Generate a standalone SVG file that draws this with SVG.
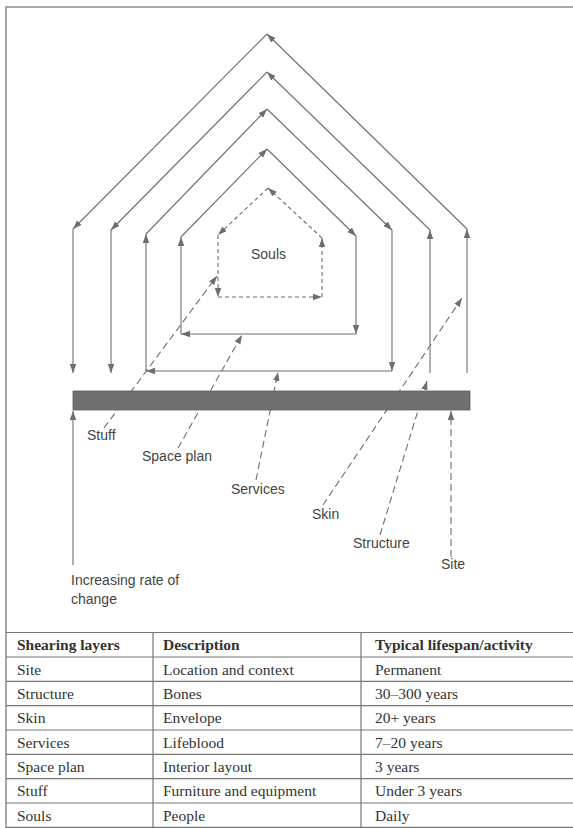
<svg xmlns="http://www.w3.org/2000/svg" width="573" height="828" viewBox="0 0 573 828">
<style>
.ln{stroke:#6e6e6e;stroke-width:1.1;fill:none;marker-end:url(#ah)}
.ds{stroke:#6e6e6e;stroke-width:1.1;fill:none;stroke-dasharray:7 4;marker-end:url(#ah)}
.ds2{stroke:#6e6e6e;stroke-width:1.1;fill:none;stroke-dasharray:4 3;marker-end:url(#ah)}
.lbl{font-family:"Liberation Sans",Arial,sans-serif;font-size:14px;fill:#444}
.th{font-family:"Liberation Serif","Times New Roman",serif;font-size:15.5px;font-weight:bold;fill:#333}
.td{font-family:"Liberation Serif","Times New Roman",serif;font-size:15.5px;fill:#333}
.grid{stroke:#777;stroke-width:1.2;fill:none}
</style>
<defs>
<marker id="ah" markerUnits="userSpaceOnUse" markerWidth="9" markerHeight="7" refX="9" refY="3.25" orient="auto">
<path d="M0,0 L9,3.25 L0,6.5 z" fill="#6e6e6e"/>
</marker>
</defs>
<rect width="573" height="828" fill="#fff"/>
<path d="M6,828 V7 H573" stroke="#8a8a8a" stroke-width="1.5" fill="none"/>

<g id="connectors">
<line class="ds" x1="104" y1="428" x2="217" y2="276"/>
<line class="ds" x1="178" y1="448" x2="242" y2="335"/>
<line class="ds" x1="256" y1="480" x2="278" y2="372"/>
<line class="ds" x1="323" y1="505" x2="462" y2="298"/>
<line class="ds" x1="380" y1="535" x2="427" y2="381"/>
<line class="ds" x1="451" y1="557" x2="451" y2="411"/>
<line class="ln" x1="73" y1="565" x2="73" y2="411"/>
</g>

<g id="site">
<line class="ln" x1="467" y1="373" x2="467" y2="229"/>
<line class="ln" x1="467" y1="229" x2="267" y2="34"/>
<line class="ln" x1="267" y1="34" x2="73" y2="229"/>
<line class="ln" x1="73" y1="229" x2="73" y2="373"/>
</g>
<g id="structure">
<line class="ln" x1="430" y1="373" x2="430" y2="230"/>
<line class="ln" x1="430" y1="230" x2="267" y2="72"/>
<line class="ln" x1="267" y1="72" x2="111" y2="230"/>
<line class="ln" x1="111" y1="230" x2="111" y2="373"/>
</g>
<g id="skin">
<line class="ln" x1="146" y1="371" x2="146" y2="234"/>
<line class="ln" x1="146" y1="234" x2="267" y2="109"/>
<line class="ln" x1="267" y1="109" x2="392" y2="230"/>
<line class="ln" x1="392" y1="230" x2="392" y2="371"/>
<line class="ln" x1="392" y1="371" x2="146" y2="371"/>
</g>
<g id="services">
<line class="ln" x1="181" y1="334" x2="181" y2="237"/>
<line class="ln" x1="181" y1="237" x2="267" y2="149"/>
<line class="ln" x1="267" y1="149" x2="356" y2="236"/>
<line class="ln" x1="356" y1="236" x2="356" y2="334"/>
<line class="ln" x1="356" y1="334" x2="181" y2="334"/>
</g>
<g id="souls">
<line class="ds2" x1="218" y1="235" x2="218" y2="297"/>
<line class="ds2" x1="218" y1="297" x2="322" y2="297"/>
<line class="ds2" x1="322" y1="297" x2="322" y2="238"/>
<line class="ds2" x1="322" y1="238" x2="268" y2="188"/>
<line class="ds2" x1="268" y1="188" x2="218" y2="235"/>
<text class="lbl" x="251" y="259">Souls</text>
</g>

<g id="ground">
<rect x="73" y="391" width="397" height="19" fill="#707070" stroke="#5e5e5e" stroke-width="0.8"/>
</g>

<g id="labels">
<text class="lbl" x="87" y="440">Stuff</text>
<text class="lbl" x="142" y="461">Space plan</text>
<text class="lbl" x="231" y="494">Services</text>
<text class="lbl" x="312" y="519">Skin</text>
<text class="lbl" x="353" y="548">Structure</text>
<text class="lbl" x="441" y="569">Site</text>
<text class="lbl" x="71" y="585">Increasing rate of</text>
<text class="lbl" x="71" y="604">change</text>
</g>

<g id="table">
<path class="grid" d="M6,632.5 H573 M6,657 H573 M6,681.3 H573 M6,705.6 H573 M6,730 H573 M6,754.3 H573 M6,778.6 H573 M6,803 H573 M6,827.3 H573 M153,632.5 V828 M361,632.5 V828"/>
<text class="th" x="17" y="650">Shearing layers</text>
<text class="th" x="163" y="650">Description</text>
<text class="th" x="375" y="650">Typical lifespan/activity</text>
<text class="td" x="17" y="674.5">Site</text>
<text class="td" x="163" y="674.5">Location and context</text>
<text class="td" x="375" y="674.5">Permanent</text>
<text class="td" x="17" y="698.8">Structure</text>
<text class="td" x="163" y="698.8">Bones</text>
<text class="td" x="375" y="698.8">30–300 years</text>
<text class="td" x="17" y="723.1">Skin</text>
<text class="td" x="163" y="723.1">Envelope</text>
<text class="td" x="375" y="723.1">20+ years</text>
<text class="td" x="17" y="747.5">Services</text>
<text class="td" x="163" y="747.5">Lifeblood</text>
<text class="td" x="375" y="747.5">7–20 years</text>
<text class="td" x="17" y="771.8">Space plan</text>
<text class="td" x="163" y="771.8">Interior layout</text>
<text class="td" x="375" y="771.8">3 years</text>
<text class="td" x="17" y="796.1">Stuff</text>
<text class="td" x="163" y="796.1">Furniture and equipment</text>
<text class="td" x="375" y="796.1">Under 3 years</text>
<text class="td" x="17" y="820.5">Souls</text>
<text class="td" x="163" y="820.5">People</text>
<text class="td" x="375" y="820.5">Daily</text>
</g>
</svg>
